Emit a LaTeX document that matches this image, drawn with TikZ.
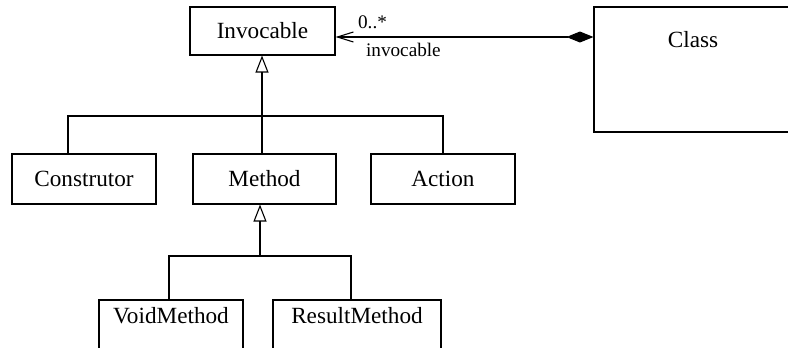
\documentclass[tikz,border=0pt]{standalone}
\usepackage{fontspec}
\setmainfont{Liberation Serif}
\usetikzlibrary{positioning, arrows.meta}

\begin{document}
\begin{tikzpicture}[x=0.5pt, y=-0.5pt, line width=0.55pt,
    every node/.style={font=\fontsize{11.6}{13}\selectfont},
    classbox/.style={draw, inner sep=0pt, minimum width=72pt, minimum height=25pt},
    rolelabel/.style={font=\fontsize{9.6}{11}\selectfont, inner sep=0pt},
    genarrow/.style={{Triangle[open, length=8.5pt, width=6.5pt]}-}]
        \useasboundingbox (0,0) rectangle (788,348);
        \clip (0,0) rectangle (788,348);
        % Top level classes
        \node[classbox, minimum width=72.5pt, minimum height=24pt] (invocable) at (262.5,31) {Invocable};
        \node[classbox, minimum width=99pt, minimum height=62.5pt] (class) at (693,69.5) {};
        \node (classname) at ([yshift=-16.5pt]class.north) {Class};
        % Composition Class -> Invocable
        \coordinate (assocend) at ([yshift=-3pt]invocable.east);
        \draw[{Diamond[length=13.5pt, width=5.5pt]}-{Straight Barb[length=8pt, width=5pt]}] (class.west |- assocend) -- (assocend);
        \node[rolelabel, anchor=base west] (multiplicity) at ([xshift=11pt, yshift=4.5pt]assocend) {0..*};
        \node[rolelabel, anchor=north west] (rolename) at ([xshift=15pt, yshift=-3pt]assocend) {invocable};
        % Subclasses of Invocable
        \node[classbox] (construtor) at (84,179) {Construtor};
        \node[classbox, minimum width=71.5pt] (method) at (264.5,179) {Method};
        \node[classbox] (action) at (443,179) {Action};
        \coordinate (fork1) at (262,116);
        \draw[genarrow] (fork1 |- invocable.south) -- (fork1);
        \draw ([xshift=-8pt]construtor.north) |- (fork1) -| (action.north);
        \draw (fork1) -- (fork1 |- method.north);
        % Subclasses of Method
        \node[classbox, minimum height=35pt] (voidmethod) at (171,335) {};
        \node (voidmethodname) at ([yshift=-8pt]voidmethod.north) {VoidMethod};
        \node[classbox, minimum width=84pt, minimum height=35pt] (resultmethod) at (357,335) {};
        \node (resultmethodname) at ([yshift=-8pt]resultmethod.north) {ResultMethod};
        \coordinate (fork2) at (260,256);
        \draw[genarrow] (fork2 |- method.south) -- (fork2);
        \draw ([xshift=-1pt]voidmethod.north) |- (fork2) -| ([xshift=-3pt]resultmethod.north);
      \end{tikzpicture}
\end{document}
